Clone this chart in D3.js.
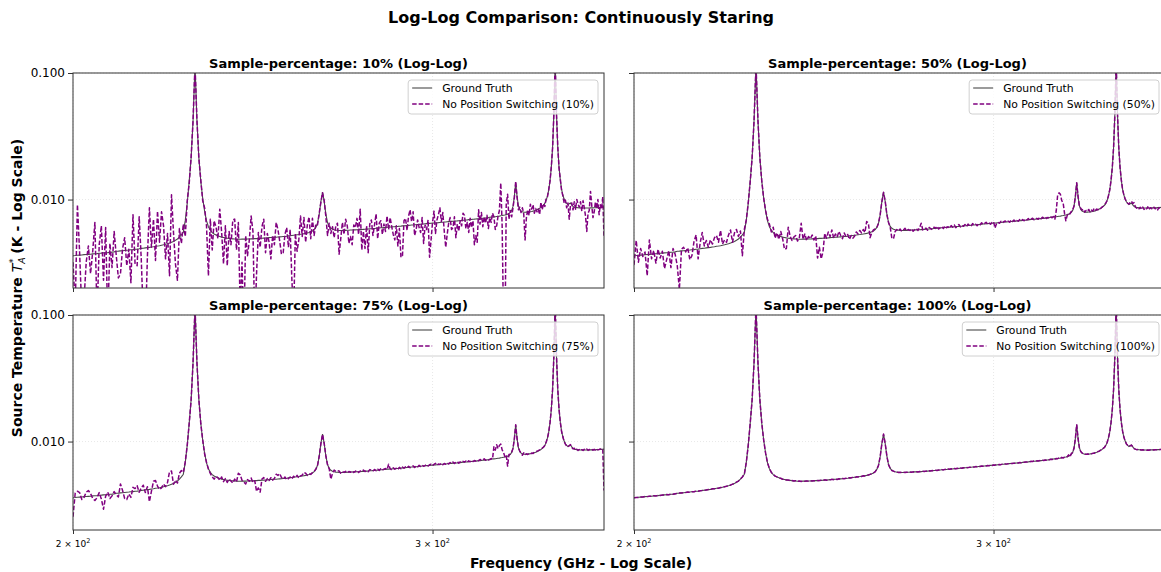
<!DOCTYPE html>
<html>
<head>
<meta charset="utf-8">
<script src="https://cdn.jsdelivr.net/npm/d3@7"></script>
<style>
  body { margin: 0; background: #fff; }
  text { font-family: "DejaVu Sans", sans-serif; fill: #000; }
</style>
</head>
<body>
<svg id="chart" width="1161" height="572"></svg>
<script>
// Spectral channel grid (GHz)
const startFreqGHz = 200;
const channelWidthGHz = 0.5;

// Antenna temperature, in mK, one value per channel (200 → 364 GHz)
const groundTruthMK = [
  3.60, 3.61, 3.63, 3.64, 3.65, 3.67, 3.68, 3.69, 3.70, 3.72,
  3.73, 3.74, 3.76, 3.77, 3.79, 3.80, 3.81, 3.83, 3.84, 3.86,
  3.90, 3.91, 3.93, 3.94, 3.96, 3.98, 3.99, 4.01, 4.02, 4.05,
  4.06, 4.08, 4.11, 4.12, 4.15, 4.17, 4.19, 4.22, 4.24, 4.27,
  4.29, 4.32, 4.36, 4.39, 4.44, 4.48, 4.53, 4.60, 4.67, 4.77,
  4.88, 5.04, 5.26, 5.52, 6.84, 9.35, 13.86, 21.38, 42.39, 116.4,
  42.42, 21.43, 13.95, 10.26, 8.08, 6.79, 6.10, 5.72, 5.48, 5.35,
  5.24, 5.17, 5.11, 5.05, 5.02, 4.98, 4.95, 4.93, 4.90, 4.89,
  4.88, 4.86, 4.86, 4.86, 4.87, 4.87, 4.87, 4.88, 4.88, 4.89,
  4.89, 4.91, 4.91, 4.93, 4.93, 4.95, 4.96, 4.97, 4.98, 5.00,
  5.01, 5.02, 5.03, 5.04, 5.06, 5.07, 5.08, 5.10, 5.11, 5.13,
  5.16, 5.18, 5.20, 5.22, 5.24, 5.27, 5.29, 5.32, 5.34, 5.37,
  5.40, 5.45, 5.49, 5.56, 5.64, 5.78, 6.02, 6.49, 7.60, 9.62,
  11.43, 9.65, 7.66, 6.58, 6.14, 5.93, 5.82, 5.77, 5.73, 5.72,
  5.70, 5.70, 5.70, 5.71, 5.71, 5.72, 5.72, 5.74, 5.74, 5.76,
  5.76, 5.77, 5.78, 5.79, 5.80, 5.81, 5.82, 5.84, 5.85, 5.87,
  5.88, 5.90, 5.91, 5.93, 5.94, 5.96, 5.98, 5.99, 6.01, 6.02,
  6.04, 6.05, 6.07, 6.08, 6.10, 6.11, 6.13, 6.14, 6.16, 6.17,
  6.19, 6.21, 6.22, 6.24, 6.25, 6.27, 6.29, 6.30, 6.32, 6.33,
  6.35, 6.37, 6.38, 6.40, 6.41, 6.43, 6.45, 6.46, 6.48, 6.49,
  6.51, 6.53, 6.54, 6.56, 6.57, 6.59, 6.61, 6.62, 6.64, 6.65,
  6.67, 6.69, 6.70, 6.72, 6.73, 6.75, 6.77, 6.78, 6.80, 6.81,
  6.85, 6.87, 6.88, 6.90, 6.91, 6.94, 6.96, 6.97, 6.99, 7.00,
  7.02, 7.04, 7.05, 7.07, 7.09, 7.11, 7.13, 7.15, 7.17, 7.20,
  7.24, 7.26, 7.28, 7.30, 7.32, 7.35, 7.38, 7.40, 7.44, 7.47,
  7.51, 7.55, 7.60, 7.67, 7.77, 7.91, 8.21, 8.83, 10.55, 13.58,
  10.60, 8.93, 8.35, 8.10, 8.01, 7.96, 7.94, 7.96, 7.97, 7.99,
  8.02, 8.05, 8.10, 8.17, 8.24, 8.32, 8.42, 8.52, 8.66, 8.82,
  9.01, 9.33, 9.84, 10.66, 11.88, 14.09, 17.91, 25.93, 47.94, 122.96,
  47.98, 26.00, 18.01, 14.23, 12.05, 10.86, 10.08, 9.60, 9.31, 9.13,
  9.25, 9.39, 9.06, 8.83, 8.70, 8.65, 8.63, 8.61, 8.59, 8.58,
  8.58, 8.58, 8.57, 8.57, 8.57, 8.57, 8.58, 8.59, 8.59, 8.60,
  8.61, 8.62, 8.63, 8.64, 8.65, 8.67, 8.68, 8.69, 8.71
];

// Reconstructions without position switching, 10 % of samples
const staring10MK = [
  3.20, 1.40, 9.10, 3.80, 1.30, 1.60, 3.20, 4.30, 2.60, 3.90,
  6.60, 1.20, 4.40, 6.20, 2.30, 6.00, 1.10, 4.50, 2.90, 5.60,
  3.60, 2.40, 2.60, 4.10, 5.00, 3.00, 4.05, 2.20, 7.60, 3.10,
  3.00, 7.30, 3.40, 1.20, 0.90, 3.50, 8.60, 4.20, 7.00, 3.30,
  8.10, 4.60, 8.00, 6.20, 3.40, 5.40, 2.50, 10.9, 5.50, 3.10,
  2.30, 5.90, 4.50, 6.40, 5.10, 9.80, 13.40, 21.6, 42.2, 116.4,
  42.6, 21.2, 14.3, 9.80, 8.60, 6.20, 2.50, 7.00, 4.00, 6.80,
  6.10, 4.90, 8.40, 5.50, 3.10, 6.20, 3.00, 5.60, 4.40, 6.90,
  7.00, 4.00, 6.60, 1.40, 3.20, 0.90, 5.20, 3.60, 4.80, 7.40,
  5.60, 1.00, 2.60, 5.50, 4.20, 6.10, 7.00, 3.80, 5.40, 4.60,
  3.40, 5.20, 4.40, 6.60, 5.80, 4.70, 3.70, 3.80, 5.30, 6.00,
  4.20, 5.80, 2.30, 1.20, 5.40, 3.90, 4.80, 7.40, 5.10, 7.20,
  4.60, 6.30, 7.30, 4.90, 7.10, 5.20, 6.40, 6.30, 7.80, 9.50,
  11.3, 9.80, 7.30, 5.20, 6.50, 5.40, 6.10, 5.00, 6.20, 6.50,
  3.70, 4.90, 6.60, 5.30, 7.00, 6.20, 4.50, 5.10, 4.40, 6.30,
  6.00, 7.10, 5.30, 8.40, 4.00, 5.60, 4.10, 6.20, 3.80, 6.40,
  6.90, 5.20, 6.30, 7.70, 4.90, 6.50, 6.80, 5.30, 6.40, 5.60,
  7.40, 5.80, 7.20, 6.10, 5.30, 4.80, 6.20, 4.30, 5.90, 3.50,
  3.60, 6.80, 7.10, 5.70, 7.40, 8.30, 6.70, 8.00, 5.20, 5.80,
  6.90, 6.00, 5.50, 7.20, 4.50, 6.30, 5.80, 6.90, 3.50, 4.80,
  6.60, 8.10, 5.40, 6.90, 7.60, 8.60, 6.70, 7.90, 5.60, 4.20,
  5.30, 6.50, 7.20, 5.80, 6.00, 7.30, 5.00, 6.40, 5.60, 6.80,
  6.20, 7.80, 7.50, 5.90, 6.60, 5.50, 7.10, 6.00, 6.80, 4.40,
  5.20, 4.60, 8.30, 6.40, 7.90, 6.10, 7.30, 6.50, 7.50, 5.90,
  7.20, 6.60, 7.80, 7.30, 5.80, 6.20, 7.40, 8.20, 13.5, 6.20,
  1.10, 0.70, 9.20, 11.0, 7.00, 8.20, 7.30, 8.60, 10.4, 13.9,
  10.5, 8.30, 8.70, 7.90, 8.60, 7.70, 4.80, 7.20, 8.30, 7.50,
  9.20, 8.40, 9.10, 7.80, 8.50, 8.00, 8.40, 7.60, 9.50, 8.30,
  9.30, 8.80, 10.2, 10.5, 12.0, 14.0, 18.1, 25.7, 48.2, 123.0,
  47.7, 26.3, 17.8, 14.5, 11.8, 10.7, 9.40, 9.90, 8.60, 9.40,
  7.00, 9.00, 9.40, 8.30, 9.60, 8.40, 10.0, 9.20, 8.70, 9.60,
  8.10, 9.80, 8.60, 7.40, 5.60, 7.80, 8.20, 11.6, 9.00, 7.20,
  8.00, 9.60, 8.50, 10.0, 7.60, 9.10, 8.40, 10.5, 5.10
];

// 50 % of samples
const staring50MK = [
  3.05, 4.75, 3.20, 4.10, 3.55, 3.85, 2.50, 4.80, 3.40, 3.95,
  3.15, 4.05, 3.45, 3.90, 2.85, 3.35, 3.95, 2.90, 4.10, 3.70,
  3.00, 1.95, 4.05, 4.20, 3.85, 4.15, 3.35, 3.60, 4.65, 5.25,
  3.40, 4.55, 5.50, 4.30, 4.75, 4.20, 4.80, 4.45, 5.00, 5.20,
  4.60, 5.70, 4.45, 4.80, 4.60, 5.25, 5.75, 4.60, 5.45, 5.80,
  5.10, 5.65, 3.60, 5.80, 6.90, 9.40, 13.80, 21.40, 42.3, 116.4,
  42.5, 21.4, 14.0, 10.2, 8.20, 6.95, 6.40, 5.55, 6.05, 4.95,
  5.45, 4.85, 5.60, 4.90, 4.05, 4.10, 6.05, 5.15, 4.75, 5.05,
  5.20, 4.70, 5.00, 6.50, 4.85, 5.35, 4.75, 5.10, 4.90, 5.25,
  4.80, 5.15, 3.45, 4.20, 3.40, 3.85, 5.40, 4.95, 5.55, 5.10,
  5.75, 4.95, 5.35, 5.05, 5.60, 5.20, 4.90, 5.45, 5.10, 5.30,
  4.85, 5.20, 4.95, 5.15, 5.55, 5.35, 5.70, 5.45, 5.80, 5.50,
  6.70, 6.55, 5.00, 5.45, 5.75, 5.85, 6.00, 6.50, 7.60, 9.60,
  11.4, 9.70, 7.60, 6.60, 6.05, 4.95, 4.90, 5.60, 5.80, 5.65,
  5.85, 5.60, 5.75, 5.92, 5.65, 5.80, 5.70, 5.88, 5.62, 5.80,
  5.90, 5.70, 6.00, 6.50, 5.75, 5.85, 5.95, 5.72, 6.02, 5.88,
  5.80, 6.05, 5.92, 6.15, 5.85, 6.00, 6.12, 5.90, 6.20, 5.98,
  6.10, 5.95, 6.22, 6.05, 6.30, 6.00, 6.18, 6.35, 6.08, 6.25,
  6.15, 6.35, 6.12, 6.40, 6.22, 6.15, 6.45, 6.28, 6.38, 6.20,
  6.42, 6.30, 6.55, 6.35, 6.48, 6.62, 6.40, 6.52, 6.38, 6.60,
  6.70, 5.95, 6.45, 6.62, 6.50, 6.72, 6.55, 6.68, 6.78, 6.60,
  6.75, 6.62, 6.85, 6.70, 6.90, 6.65, 6.82, 6.75, 6.95, 6.78,
  6.95, 6.80, 7.02, 6.90, 7.08, 6.85, 7.00, 7.12, 6.92, 7.05,
  7.10, 6.98, 7.20, 7.05, 7.25, 7.12, 7.30, 7.08, 7.22, 7.15,
  7.30, 7.18, 7.35, 7.00, 8.20, 10.9, 11.3, 11.0, 9.80, 9.40,
  7.80, 6.80, 7.50, 7.80, 7.70, 8.05, 8.30, 8.90, 10.5, 13.6,
  10.6, 8.85, 8.55, 8.25, 8.40, 7.95, 8.20, 8.05, 8.35, 7.98,
  8.25, 8.10, 8.45, 8.20, 8.40, 8.30, 8.55, 8.48, 8.70, 8.85,
  9.05, 9.40, 9.80, 10.7, 11.9, 14.1, 17.9, 25.9, 47.9, 123.0,
  48.0, 26.0, 18.0, 14.3, 12.0, 10.9, 10.1, 9.65, 9.35, 9.20,
  9.55, 9.70, 9.30, 9.45, 8.80, 8.55, 8.70, 8.45, 8.68, 8.40,
  8.72, 8.35, 8.60, 8.45, 8.75, 8.30, 8.62, 8.50, 8.35, 8.70,
  8.45, 8.58, 8.28, 8.65, 8.40, 8.55, 8.62, 8.38, 8.50
];

// 75 % of samples
const staring75MK = [
  2.55, 3.92, 4.05, 3.95, 3.48, 3.62, 3.98, 4.10, 3.88, 3.55,
  3.42, 3.60, 3.95, 3.52, 2.92, 3.70, 3.98, 3.55, 3.72, 4.02,
  3.80, 3.65, 4.62, 4.10, 3.55, 3.48, 3.85, 3.62, 4.35, 4.25,
  4.48, 3.98, 4.30, 4.52, 3.95, 4.40, 3.35, 4.05, 4.85, 4.92,
  4.45, 4.18, 4.30, 4.62, 4.40, 4.75, 5.78, 5.85, 4.60, 4.95,
  4.70, 5.62, 5.90, 5.70, 6.95, 9.30, 13.90, 21.30, 42.5, 116.4,
  42.4, 21.5, 13.9, 10.3, 8.00, 6.85, 6.05, 5.60, 5.25, 5.05,
  5.30, 5.18, 4.95, 5.25, 4.82, 5.10, 4.75, 5.05, 4.88, 4.70,
  5.05, 4.80, 5.62, 5.45, 4.95, 4.78, 4.62, 5.00, 4.85, 5.15,
  4.75, 4.90, 4.05, 4.30, 3.98, 5.05, 5.20, 4.85, 5.10, 4.92,
  5.18, 4.95, 5.10, 5.52, 5.40, 5.58, 5.20, 5.05, 5.25, 4.98,
  5.10, 5.25, 5.05, 5.32, 5.18, 5.40, 5.15, 5.35, 5.42, 5.70,
  5.62, 5.40, 5.55, 5.50, 5.70, 5.80, 6.05, 6.45, 7.62, 9.60,
  11.4, 9.65, 7.70, 6.55, 6.10, 5.05, 5.60, 5.95, 5.82, 5.88,
  5.85, 5.62, 5.78, 5.70, 5.82, 5.66, 5.80, 5.72, 5.88, 5.70,
  5.82, 5.92, 5.70, 5.85, 5.78, 5.95, 5.80, 5.90, 5.78, 6.00,
  5.95, 5.85, 6.02, 5.88, 6.05, 5.92, 6.10, 5.95, 6.05, 6.12,
  6.00, 6.62, 6.10, 5.98, 6.20, 6.05, 6.15, 6.02, 6.25, 6.10,
  6.28, 6.15, 6.32, 6.20, 6.38, 6.22, 6.30, 6.42, 6.25, 6.40,
  6.30, 6.48, 6.35, 6.52, 6.38, 6.45, 6.58, 6.40, 6.55, 6.62,
  6.45, 6.60, 6.72, 6.50, 6.65, 6.58, 6.75, 6.55, 6.70, 6.62,
  6.78, 6.65, 6.82, 6.70, 6.88, 6.72, 6.85, 6.95, 6.75, 6.90,
  6.82, 6.98, 6.88, 7.02, 6.85, 7.05, 6.92, 7.10, 6.95, 7.08,
  7.00, 7.15, 7.05, 7.22, 7.08, 7.18, 7.30, 7.12, 7.25, 7.15,
  7.20, 7.35, 7.28, 9.10, 8.55, 9.45, 8.80, 9.30, 9.55, 8.60,
  8.20, 7.60, 7.85, 6.40, 7.90, 7.95, 8.25, 8.80, 10.50, 13.55,
  10.6, 8.90, 8.45, 8.05, 7.80, 8.15, 7.85, 8.00, 7.90, 8.05,
  7.95, 8.12, 8.05, 8.25, 8.30, 8.40, 8.48, 8.60, 8.75, 8.88,
  9.05, 9.30, 9.90, 10.60, 11.90, 14.10, 17.90, 25.90, 48.0, 123.0,
  48.0, 26.0, 18.0, 14.2, 12.0, 10.9, 10.0, 9.55, 9.20, 9.05,
  9.30, 9.45, 9.00, 8.75, 8.85, 8.55, 8.70, 8.50, 8.65, 8.48,
  8.62, 8.50, 8.68, 8.55, 8.72, 8.52, 8.65, 8.58, 8.70, 8.55,
  8.68, 8.55, 8.72, 8.60, 8.66, 8.75, 8.62, 8.70, 4.10
];

// 100 % of samples
const staring100MK = [
  3.59, 3.62, 3.62, 3.65, 3.64, 3.68, 3.67, 3.70, 3.69, 3.73,
  3.72, 3.75, 3.75, 3.78, 3.78, 3.81, 3.80, 3.84, 3.83, 3.87,
  3.89, 3.92, 3.92, 3.95, 3.95, 3.99, 3.98, 4.02, 4.01, 4.06,
  4.05, 4.09, 4.10, 4.13, 4.14, 4.18, 4.18, 4.23, 4.23, 4.28,
  4.28, 4.33, 4.35, 4.40, 4.43, 4.49, 4.52, 4.61, 4.66, 4.78,
  4.87, 5.05, 5.25, 5.53, 6.83, 9.36, 13.85, 21.40, 42.37, 116.4,
  42.44, 21.41, 13.97, 10.24, 8.10, 6.77, 6.12, 5.70, 5.50, 5.33,
  5.26, 5.15, 5.13, 5.03, 5.04, 4.96, 4.97, 4.91, 4.92, 4.87,
  4.90, 4.84, 4.88, 4.84, 4.89, 4.85, 4.89, 4.86, 4.90, 4.87,
  4.91, 4.89, 4.93, 4.91, 4.95, 4.93, 4.98, 4.95, 5.00, 4.98,
  5.03, 5.00, 5.05, 5.02, 5.08, 5.05, 5.10, 5.08, 5.13, 5.11,
  5.18, 5.16, 5.22, 5.20, 5.26, 5.25, 5.31, 5.30, 5.36, 5.35,
  5.42, 5.43, 5.51, 5.54, 5.66, 5.76, 6.04, 6.47, 7.62, 9.60,
  11.45, 9.63, 7.68, 6.56, 6.16, 5.91, 5.84, 5.75, 5.75, 5.70,
  5.72, 5.68, 5.72, 5.69, 5.73, 5.70, 5.74, 5.72, 5.76, 5.74,
  5.78, 5.75, 5.80, 5.77, 5.82, 5.79, 5.84, 5.82, 5.87, 5.85,
  5.90, 5.88, 5.93, 5.91, 5.96, 5.94, 6.00, 5.97, 6.03, 6.00,
  6.06, 6.03, 6.09, 6.06, 6.12, 6.09, 6.15, 6.12, 6.18, 6.15,
  6.21, 6.19, 6.24, 6.22, 6.27, 6.25, 6.31, 6.28, 6.34, 6.31,
  6.37, 6.35, 6.40, 6.38, 6.43, 6.41, 6.47, 6.44, 6.50, 6.47,
  6.53, 6.51, 6.56, 6.54, 6.59, 6.57, 6.63, 6.60, 6.66, 6.63,
  6.69, 6.67, 6.72, 6.70, 6.75, 6.73, 6.79, 6.76, 6.82, 6.79,
  6.87, 6.85, 6.90, 6.88, 6.93, 6.92, 6.98, 6.95, 7.01, 6.98,
  7.04, 7.02, 7.07, 7.05, 7.11, 7.09, 7.15, 7.13, 7.19, 7.18,
  7.26, 7.22, 7.30, 7.27, 7.35, 7.32, 7.42, 7.36, 7.50, 7.40,
  7.53, 7.57, 7.58, 7.85, 7.55, 8.05, 8.19, 8.85, 10.53, 13.60,
  10.58, 8.95, 8.33, 8.12, 7.99, 7.98, 7.92, 7.98, 7.95, 8.01,
  8.00, 8.07, 8.08, 8.19, 8.22, 8.34, 8.40, 8.54, 8.64, 8.84,
  8.99, 9.35, 9.82, 10.68, 11.86, 14.11, 17.89, 25.95, 47.92, 122.9,
  48.00, 25.98, 18.03, 14.21, 12.07, 10.84, 10.10, 9.58, 9.33, 9.11,
  9.27, 9.37, 9.08, 8.81, 8.72, 8.63, 8.65, 8.59, 8.61, 8.56,
  8.60, 8.56, 8.59, 8.55, 8.59, 8.55, 8.60, 8.57, 8.61, 8.58,
  8.63, 8.60, 8.65, 8.62, 8.67, 8.65, 8.70, 8.67, 8.72
];

const samplePercentages = ["10%", "50%", "75%", "100%"];
const staringSeries = [staring10MK, staring50MK, staring75MK, staring100MK];
const yTickValuesK = [0.1, 0.01];
const xTickValuesGHz = [200, 300];
const freqDomainGHz = [200, 364];
const tempDomainK = [0.002, 0.1];

// ---- layout ----
const svg = d3.select("#chart");
const colX = [73, 634];
const rowY = [73, 315];
const panelW = 531, panelH = 215;
const truthColor = "#4a4a4a";
const staringColor = "#800080";

const frequencyGHz = groundTruthMK.map((_, i) => startFreqGHz + i * channelWidthGHz);

svg.append("text")
  .attr("x", 581).attr("y", 23)
  .attr("text-anchor", "middle")
  .style("font-size", "16px").style("font-weight", "bold")
  .text("Log-Log Comparison: Continuously Staring");

const defs = svg.append("defs");

samplePercentages.forEach((pct, k) => {
  const col = k % 2, row = Math.floor(k / 2);
  const x0 = colX[col], y0 = rowY[row];
  const x = d3.scaleLog().domain(freqDomainGHz).range([x0, x0 + panelW]);
  const y = d3.scaleLog().domain(tempDomainK).range([y0 + panelH, y0]);
  const g = svg.append("g");

  const clipId = "clip" + k;
  defs.append("clipPath").attr("id", clipId)
    .append("rect").attr("x", x0).attr("y", y0).attr("width", panelW).attr("height", panelH);

  // faint grid
  const grid = g.append("g").attr("stroke", "#e2e2e2").attr("stroke-width", 0.8)
    .attr("stroke-dasharray", "1,2");
  yTickValuesK.forEach(v => grid.append("line")
    .attr("x1", x0).attr("x2", x0 + panelW).attr("y1", y(v)).attr("y2", y(v)));
  xTickValuesGHz.forEach(v => grid.append("line")
    .attr("x1", x(v)).attr("x2", x(v)).attr("y1", y0).attr("y2", y0 + panelH));

  // spectra
  const line = d3.line()
    .x((d, i) => x(frequencyGHz[i]))
    .y(d => y(d / 1000));
  const plot = g.append("g").attr("clip-path", `url(#${clipId})`);
  plot.append("path").datum(groundTruthMK)
    .attr("d", line).attr("fill", "none")
    .attr("stroke", truthColor).attr("stroke-width", 1.1);
  plot.append("path").datum(staringSeries[k])
    .attr("d", line).attr("fill", "none")
    .attr("stroke", staringColor).attr("stroke-width", 1.5)
    .attr("stroke-dasharray", "4.5,2").attr("stroke-linejoin", "round");

  // frame
  g.append("rect").attr("x", x0).attr("y", y0).attr("width", panelW).attr("height", panelH)
    .attr("fill", "none").attr("stroke", "#333").attr("stroke-width", 1);

  // y axis
  const yAxis = d3.axisLeft(y).tickValues(yTickValuesK).tickSize(5)
    .tickFormat(col === 0 ? d3.format(".3f") : () => "");
  const ya = g.append("g").attr("transform", `translate(${x0},0)`).call(yAxis);
  ya.select(".domain").remove();
  ya.selectAll(".tick line").attr("stroke", "#333");
  ya.selectAll(".tick text").style("font-size", "12px")
    .style("font-family", '"DejaVu Sans", sans-serif').attr("fill", "#222");

  // x axis
  const xAxis = d3.axisBottom(x).tickValues(xTickValuesGHz).tickSize(4).tickFormat(() => "");
  const xa = g.append("g").attr("transform", `translate(0,${y0 + panelH})`).call(xAxis);
  xa.select(".domain").remove();
  xa.selectAll(".tick line").attr("stroke", "#333");
  if (row === 1) {
    xTickValuesGHz.forEach(v => {
      const t = g.append("text")
        .attr("x", x(v)).attr("y", y0 + panelH + 17)
        .attr("text-anchor", "middle")
        .style("font-size", "9px").attr("fill", "#222");
      t.append("tspan").text(`${v / 100} \u00d7 10`);
      t.append("tspan").attr("dy", -4).style("font-size", "6.5px").text("2");
    });
  }

  // subplot title
  g.append("text")
    .attr("x", x0 + panelW / 2 - (col === 1 ? 2 : 0)).attr("y", y0 - 5)
    .attr("text-anchor", "middle")
    .style("font-size", "13px").style("font-weight", "bold")
    .text(`Sample-percentage: ${pct} (Log-Log)`);

  // legend
  const entries = [
    { label: "Ground Truth", color: truthColor, dash: null, w: 1.1 },
    { label: `No Position Switching (${pct})`, color: staringColor, dash: "4.5,2", w: 1.5 }
  ];
  const lg = g.append("g");
  const box = lg.append("rect");
  const texts = entries.map((e, i) => lg.append("text")
    .attr("y", y0 + 19 + i * 16)
    .style("font-size", "10.8px").attr("fill", "#222")
    .text(e.label));
  const textW = d3.max(texts, t => t.node().getComputedTextLength());
  const boxW = 34 + textW + 4;
  const bx = x0 + panelW - 6 - boxW, by = y0 + 7;
  box.attr("x", bx).attr("y", by).attr("width", boxW).attr("height", 34)
    .attr("rx", 3).attr("fill", "#fff").attr("fill-opacity", 0.8)
    .attr("stroke", "#d0d0d0").attr("stroke-width", 1);
  texts.forEach(t => t.attr("x", bx + 34));
  entries.forEach((e, i) => {
    const ly = y0 + 15 + i * 16;
    const l = lg.append("line").attr("x1", bx + 4).attr("x2", bx + 24)
      .attr("y1", ly).attr("y2", ly)
      .attr("stroke", e.color).attr("stroke-width", e.w);
    if (e.dash) l.attr("stroke-dasharray", e.dash);
  });
});

// axis labels
svg.append("text")
  .attr("x", 581).attr("y", 568)
  .attr("text-anchor", "middle")
  .style("font-size", "14px").style("font-weight", "bold")
  .text("Frequency (GHz - Log Scale)");

const yl = svg.append("text")
  .attr("transform", "translate(22,288) rotate(-90)")
  .attr("text-anchor", "middle")
  .style("font-size", "14px").style("font-weight", "bold");
yl.append("tspan").text("Source Temperature ");
yl.append("tspan").style("font-style", "italic").style("font-weight", "normal").text("T");
yl.append("tspan").attr("dy", 3).style("font-size", "9.5px")
  .style("font-style", "italic").style("font-weight", "normal").text("A");
yl.append("tspan").attr("dx", -6).attr("dy", -9).style("font-size", "9.5px")
  .style("font-weight", "normal").text("*");
yl.append("tspan").attr("dy", 6).text(" (K - Log Scale)");
</script>
</body>
</html>
